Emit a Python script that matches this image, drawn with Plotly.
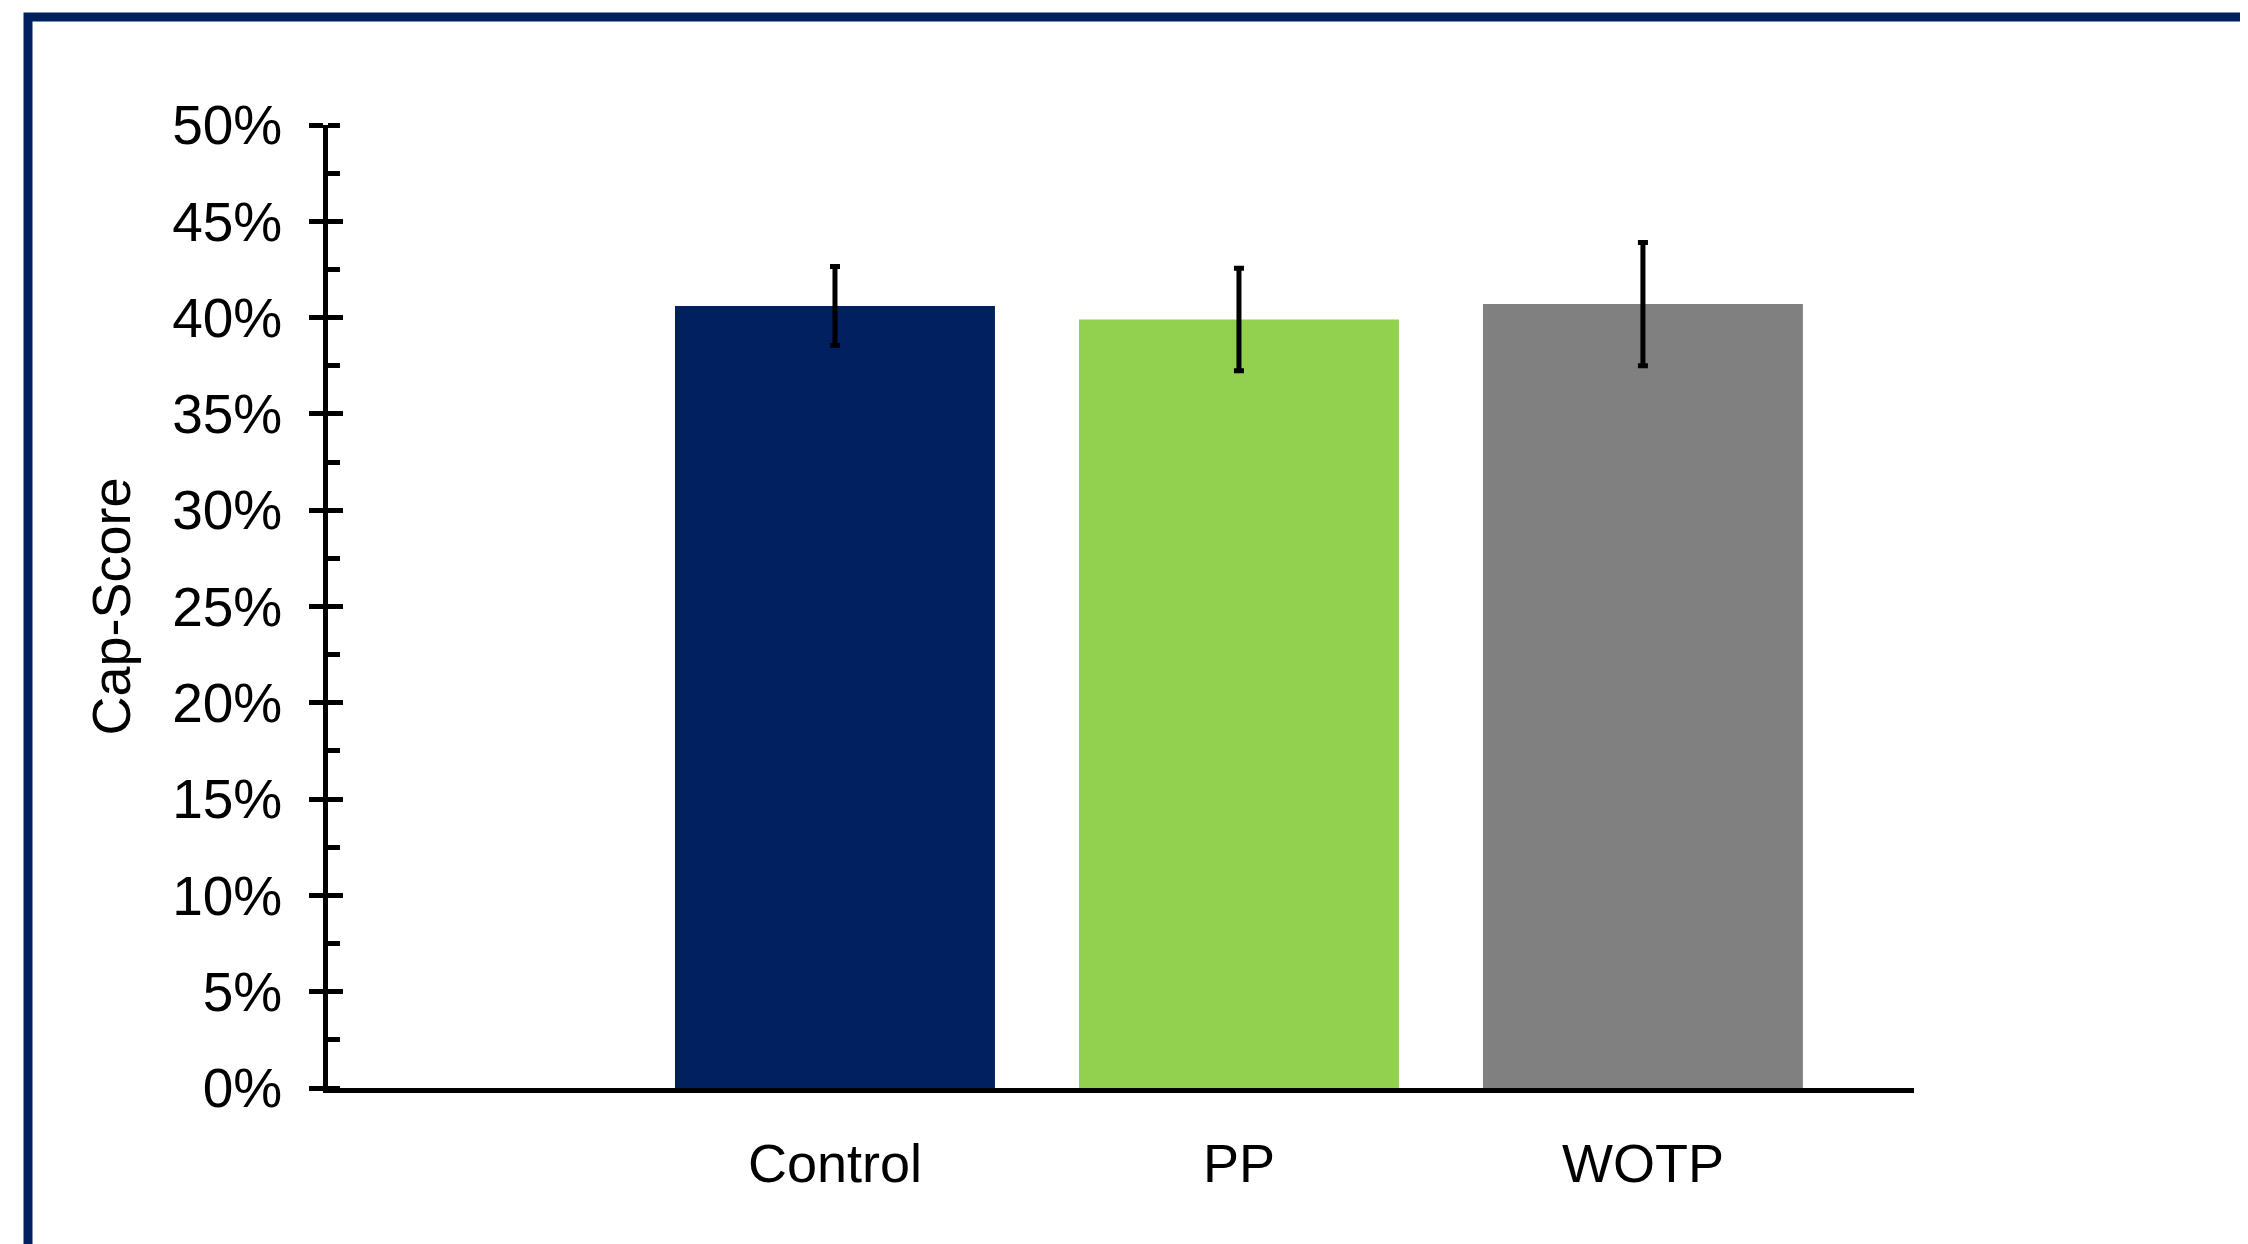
import plotly.graph_objects as go

categories = ["Control", "PP", "WOTP"]
values = [0.406, 0.399, 0.407]
errors = [0.0205, 0.0266, 0.032]
bar_colors = ["#002060", "#92D050", "#808080"]
y_tick_values = [0, 0.05, 0.10, 0.15, 0.20, 0.25, 0.30, 0.35, 0.40, 0.45, 0.50]
y_title = "Cap-Score"

W, H = 2248, 1244
OFF = 8  # default page body margin
ML, MR, MT, MB = 328 - OFF, 334 + OFF, 125 - OFF, 156 + OFF
PW = W - ML - MR
PH = H - MT - MB

FONT = "Liberation Sans, Arial, sans-serif"

fig = go.Figure()
fig.add_trace(go.Bar(
    x=categories, y=values,
    marker=dict(color=bar_colors, line=dict(width=0)),
    error_y=dict(type="data", array=errors, visible=True,
                 color="black", thickness=5, width=5),
    showlegend=False, hoverinfo="skip",
))
# invisible trace so the overlay axis (inside half of the major ticks) is drawn
fig.add_trace(go.Scatter(
    x=categories, y=values, yaxis="y2", mode="markers",
    marker=dict(opacity=0), showlegend=False, hoverinfo="skip",
))

fig.update_layout(
    width=W, height=H, autosize=False,
    margin=dict(l=ML, r=MR, t=MT, b=MB, pad=0),
    paper_bgcolor="white", plot_bgcolor="white",
    font=dict(family=FONT, color="black", size=54),
    bargap=0.208,
    xaxis=dict(
        type="category", range=[-1.255, 2.671],
        showline=True, linecolor="black", linewidth=4.5,
        ticks="outside", ticklen=24, tickcolor="rgba(0,0,0,0)",
        tickfont=dict(size=54), showgrid=False, zeroline=False,
    ),
    yaxis=dict(
        range=[0, 0.5], tickvals=y_tick_values, tickformat=".0%",
        showline=True, linecolor="black", linewidth=4.5,
        ticks="outside", ticklen=14, tickwidth=5, tickcolor="black",
        ticklabelstandoff=16,
        minor=dict(ticks="inside", dtick=0.025, tick0=0, ticklen=12,
                   tickwidth=5, tickcolor="black", showgrid=False),
        tickfont=dict(size=55), showgrid=False, zeroline=False,
        title=dict(text=y_title, font=dict(size=54), standoff=26),
    ),
    yaxis2=dict(
        overlaying="y", side="left", range=[0, 0.5], tickvals=y_tick_values,
        showticklabels=False, showline=False, ticks="inside", ticklen=15,
        tickwidth=5, tickcolor="black", showgrid=False, zeroline=False,
    ),
    shapes=[dict(
        type="rect", xref="paper", yref="paper",
        x0=(28 - OFF - ML) / PW, x1=1.3,
        y0=-0.3, y1=(H - MB - (17 - OFF)) / PH,
        line=dict(color="#002060", width=9), fillcolor="rgba(0,0,0,0)",
        layer="below",
    )],
)

fig.write_html("out.html")
